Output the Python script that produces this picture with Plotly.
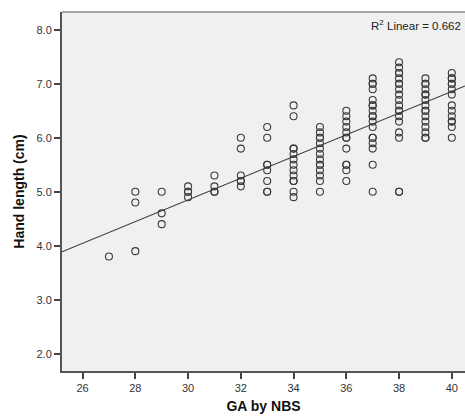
import plotly.graph_objects as go

# Data: gestational age (weeks) -> hand length values (cm)
ga_weeks = [27, 28, 29, 30, 31, 32, 33, 34, 35, 36, 37, 38, 39, 40]
hand_length = {
    27: [3.8],
    28: [5.0, 4.8, 3.9],
    29: [5.0, 4.6, 4.4],
    30: [5.1, 5.0, 5.0, 4.9],
    31: [5.3, 5.1, 5.0, 5.0],
    32: [6.0, 5.8, 5.3, 5.2, 5.2, 5.1],
    33: [6.2, 6.0, 5.5, 5.5, 5.4, 5.2, 5.0, 5.0],
    34: [6.6, 6.4, 5.8, 5.8, 5.7, 5.6, 5.5, 5.4, 5.3, 5.2, 5.2, 5.0, 4.9],
    35: [6.2, 6.1, 6.0, 6.0, 5.9, 5.8, 5.7, 5.6, 5.5, 5.5, 5.4, 5.3, 5.2, 5.0],
    36: [6.5, 6.4, 6.3, 6.2, 6.1, 6.0, 6.0, 5.8, 5.5, 5.5, 5.4, 5.2],
    37: [7.1, 7.0, 7.0, 6.9, 6.7, 6.6, 6.6, 6.5, 6.4, 6.4, 6.3, 6.2, 6.0, 6.0, 5.9, 5.8, 5.5, 5.0],
    38: [7.4, 7.3, 7.2, 7.2, 7.1, 7.0, 7.0, 6.9, 6.8, 6.7, 6.6, 6.5, 6.5, 6.4, 6.3, 6.1, 6.0, 5.0, 5.0],
    39: [7.1, 7.0, 7.0, 6.9, 6.8, 6.8, 6.7, 6.6, 6.5, 6.5, 6.4, 6.3, 6.2, 6.1, 6.0, 6.0],
    40: [7.2, 7.1, 7.1, 7.0, 7.0, 6.9, 6.8, 6.6, 6.5, 6.4, 6.3, 6.3, 6.2, 6.0],
}
fit_slope = 0.201
fit_intercept = -1.18
r2_label = "R<sup>2</sup> Linear = 0.662"
x_range = [25.22, 40.5]
y_range = [1.68, 8.33]
x_ticks = [26, 28, 30, 32, 34, 36, 38, 40]
y_ticks = [2.0, 3.0, 4.0, 5.0, 6.0, 7.0, 8.0]

xs, ys = [], []
for g in ga_weeks:
    for v in hand_length[g]:
        xs.append(g)
        ys.append(v)

fig = go.Figure()
fig.add_trace(go.Scatter(
    x=x_range, y=[fit_intercept + fit_slope * x for x in x_range],
    mode="lines", line=dict(color="#3a3a3a", width=1.1),
    hoverinfo="skip", showlegend=False))
fig.add_trace(go.Scatter(
    x=xs, y=ys, mode="markers",
    marker=dict(symbol="circle-open", size=7, color="#3a3a3a", line=dict(width=1.1)),
    showlegend=False))

axis_font = dict(family="Liberation Sans, Arial", size=11, color="#333333")
title_font = dict(family="Liberation Sans, Arial", size=14, color="#111111")
fig.update_layout(
    width=465, height=418,
    margin=dict(l=62, r=0, t=12, b=47),
    paper_bgcolor="white", plot_bgcolor="#F0F0F0",
    showlegend=False,
    xaxis=dict(range=x_range, tickvals=x_ticks, showgrid=False, zeroline=False,
               showline=True, linecolor="#555555", linewidth=2,
               ticks="outside", ticklen=6, tickwidth=1.5, tickcolor="#444444",
               tickfont=axis_font,
               title=dict(text="<b>GA by NBS</b>", standoff=8, font=title_font)),
    yaxis=dict(range=y_range, tickvals=y_ticks, tickformat=".1f", showgrid=False, zeroline=False,
               showline=True, linecolor="#555555", linewidth=2,
               ticks="outside", ticklen=6, tickwidth=1.5, tickcolor="#444444",
               tickfont=axis_font,
               title=dict(text="<b>Hand length (cm)</b>", standoff=9, font=title_font)),
    shapes=[dict(type="line", xref="paper", yref="paper", x0=0, x1=1, y0=1, y1=1,
                 line=dict(color="#8a8a8a", width=1.5))],
    annotations=[dict(text=r2_label, xref="paper", yref="paper", x=0.995, y=0.988,
                      xanchor="right", yanchor="top", showarrow=False,
                      font=dict(family="Liberation Sans, Arial", size=11.5, color="#222222"))],
)
fig.write_html("out.html", config={"displayModeBar": False})

# remove default page margins so the figure sits at the window's top-left corner
with open("out.html", "r", encoding="utf-8") as f:
    html = f.read()
html = html.replace("<head>", "<head><style>html,body{margin:0;padding:0;overflow:hidden;}</style>", 1)
with open("out.html", "w", encoding="utf-8") as f:
    f.write(html)
